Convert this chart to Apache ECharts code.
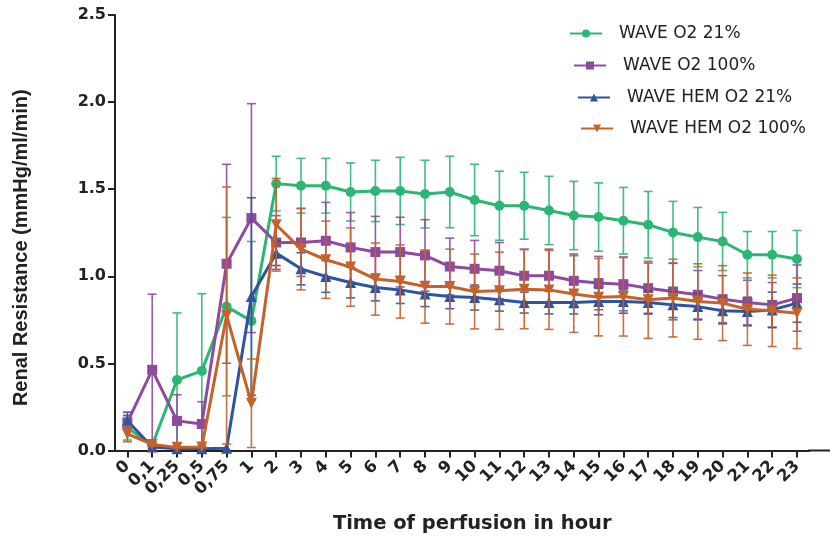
<!DOCTYPE html>
<html>
<head>
<meta charset="utf-8">
<script src="https://cdn.jsdelivr.net/npm/echarts@6/dist/echarts.min.js"></script>
<style>html,body{margin:0;padding:0;background:#fff;}#c{width:830px;height:539px;}</style>
</head>
<body>
<div id="c"></div>
<script>
const categories = ['0','0,1','0,25','0,5','0,75','1','2','3','4','5','6','7','8','9','10','11','12','13','14','15','16','17','18','19','20','21','22','23'];
const yTicks = [0, 0.5, 1.0, 1.5, 2.0, 2.5];
const seriesNames = ['WAVE O2 21%', 'WAVE O2 100%', 'WAVE HEM O2 21%', 'WAVE HEM O2 100%'];

const green = [0.13, 0.03, 0.405, 0.457, 0.826, 0.744, 1.532, 1.520, 1.520, 1.484, 1.490, 1.490, 1.472, 1.484, 1.438, 1.405, 1.405, 1.378, 1.349, 1.340, 1.319, 1.296, 1.252, 1.225, 1.200, 1.124, 1.124, 1.099];
const greenSD = [0.07, 0.01, 0.385, 0.443, 0.512, 0.456, 0.157, 0.157, 0.157, 0.167, 0.176, 0.193, 0.194, 0.205, 0.205, 0.198, 0.192, 0.196, 0.196, 0.196, 0.191, 0.191, 0.178, 0.17, 0.167, 0.133, 0.133, 0.164];

const purple = [0.162, 0.463, 0.17, 0.152, 1.072, 1.334, 1.194, 1.194, 1.204, 1.166, 1.139, 1.139, 1.120, 1.056, 1.043, 1.032, 1.003, 1.003, 0.974, 0.961, 0.955, 0.932, 0.913, 0.894, 0.869, 0.849, 0.836, 0.875];
const purpleSD = [0.04, 0.434, 0.15, 0.128, 0.571, 0.657, 0.154, 0.195, 0.22, 0.2, 0.205, 0.2, 0.205, 0.163, 0.163, 0.162, 0.153, 0.153, 0.154, 0.153, 0.153, 0.144, 0.163, 0.139, 0.135, 0.128, 0.128, 0.19];

const blue = [0.17, 0.02, 0.01, 0.01, 0.013, 0.884, 1.133, 1.043, 0.999, 0.964, 0.936, 0.922, 0.898, 0.884, 0.878, 0.865, 0.849, 0.849, 0.849, 0.855, 0.855, 0.849, 0.836, 0.826, 0.802, 0.798, 0.807, 0.846];
const blueSD = [0.05, 0.01, 0, 0, 0, 0.567, 0.071, 0.092, 0.091, 0.088, 0.077, 0.078, 0.072, 0.07, 0.072, 0.065, 0.06, 0.065, 0.065, 0.076, 0.067, 0.066, 0.073, 0.076, 0.075, 0.082, 0.102, 0.11];

const orange = [0.095, 0.035, 0.018, 0.02, 0.775, 0.271, 1.296, 1.156, 1.095, 1.053, 0.984, 0.970, 0.941, 0.941, 0.913, 0.917, 0.926, 0.922, 0.898, 0.880, 0.884, 0.865, 0.875, 0.855, 0.846, 0.811, 0.802, 0.788];
const orangeSD = [0.045, 0.01, 0.005, 0.005, 0.738, 0.254, 0.266, 0.234, 0.222, 0.225, 0.207, 0.21, 0.21, 0.215, 0.215, 0.222, 0.227, 0.227, 0.22, 0.222, 0.227, 0.221, 0.223, 0.217, 0.215, 0.208, 0.205, 0.203];

const colors = ['#2bb673', '#8e4a9e', '#2f53a1', '#c5622a'];
const symbols = ['circle', 'rect', 'triangle', 'path://M0,0 L10,0 L5,9 Z'];
const symbolSizes = [10, 10, 11, 11];
const means = [green, purple, blue, orange];
const sds = [greenSD, purpleSD, blueSD, orangeSD];

const chart = echarts.init(document.getElementById('c'), null, {renderer: 'canvas'});
const ARIAL = 'Liberation Sans, Arial, Helvetica, sans-serif';
const WIDE = 'DejaVu Sans, Verdana, sans-serif';

const series = [];
seriesNames.forEach((name, k) => {
  const col = colors[k];
  series.push({
    type: 'custom',
    name: name + ' err',
    z: 2 + k * 2,
    silent: true,
    data: means[k].map((m, i) => [i, m, sds[k][i]]),
    renderItem: function (params, api) {
      const x = api.value(0), m = api.value(1), s = api.value(2);
      if (!s) return null;
      const top = api.coord([x, m + s]);
      const bot = api.coord([x, Math.max(0, m - s)]);
      const hw = 4.5;
      const st = {stroke: col, lineWidth: 1.6, opacity: 0.9};
      return {
        type: 'group',
        children: [
          {type: 'line', shape: {x1: top[0], y1: top[1], x2: bot[0], y2: bot[1]}, style: st},
          {type: 'line', shape: {x1: top[0] - hw, y1: top[1], x2: top[0] + hw, y2: top[1]}, style: st},
          {type: 'line', shape: {x1: bot[0] - hw, y1: bot[1], x2: bot[0] + hw, y2: bot[1]}, style: st}
        ]
      };
    }
  });
  series.push({
    type: 'line',
    name: name,
    z: 3 + k * 2,
    data: means[k],
    symbol: symbols[k],
    symbolSize: symbolSizes[k],
    showAllSymbol: true,
    itemStyle: {color: col},
    lineStyle: {color: col, width: 3},
    emphasis: {disabled: true},
    animation: false
  });
});

const legendPos = [
  {left: 569, top: 25},
  {left: 573, top: 57},
  {left: 577, top: 89},
  {left: 580, top: 120}
];
const legends = seriesNames.map((n, k) => ({
  data: [n],
  left: legendPos[k].left,
  top: legendPos[k].top,
  padding: 0,
  orient: 'vertical',
  itemWidth: 32,
  itemHeight: 10,
  selectedMode: false,
  textStyle: {fontFamily: WIDE, fontSize: 17, color: '#222', padding: [0, 0, 0, 12]}
}));

const option = {
  animation: false,
  backgroundColor: '#ffffff',
  legend: legends,
  grid: {left: 115, right: 20.6, top: 15, bottom: 88.5, containLabel: false, outerBoundsMode: 'none'},
  xAxis: {
    type: 'category',
    data: categories,
    boundaryGap: true,
    name: 'Time of perfusion in hour',
    nameLocation: 'middle',
    nameGap: 63,
    nameTextStyle: {fontFamily: WIDE, fontSize: 19.5, fontWeight: 'bold', color: '#222', padding: [0, 0, 0, 20]},
    axisLine: {show: true, lineStyle: {color: '#222', width: 2}},
    axisTick: {show: true, alignWithLabel: true, interval: 0, length: 7, lineStyle: {color: '#222', width: 2}},
    axisLabel: {interval: 0, rotate: 45, fontFamily: WIDE, fontSize: 16.5, fontWeight: 'bold', color: '#222', margin: 13, hideOverlap: false},
    splitLine: {show: false}
  },
  yAxis: {
    type: 'value',
    min: 0,
    max: 2.5,
    interval: 0.5,
    name: 'Renal Resistance (mmHg/ml/min)',
    nameLocation: 'middle',
    nameGap: 84,
    nameTextStyle: {fontFamily: ARIAL, fontSize: 20, fontWeight: 'bold', color: '#222', padding: [0, 30, 0, 0]},
    axisLine: {show: true, lineStyle: {color: '#222', width: 2}},
    axisTick: {show: true, length: 7, lineStyle: {color: '#222', width: 2}},
    axisLabel: {fontFamily: WIDE, fontSize: 16, fontWeight: 'bold', color: '#222', margin: 9,
      formatter: v => yTicks.includes(v) ? v.toFixed(1) : ''},
    splitLine: {show: false}
  },
  graphic: [
    {type: 'line', shape: {x1: 808, y1: 450.5, x2: 830, y2: 450.5}, style: {stroke: '#222', lineWidth: 2}, silent: true}
  ],
  series: series
};
chart.setOption(option);
</script>
</body>
</html>
